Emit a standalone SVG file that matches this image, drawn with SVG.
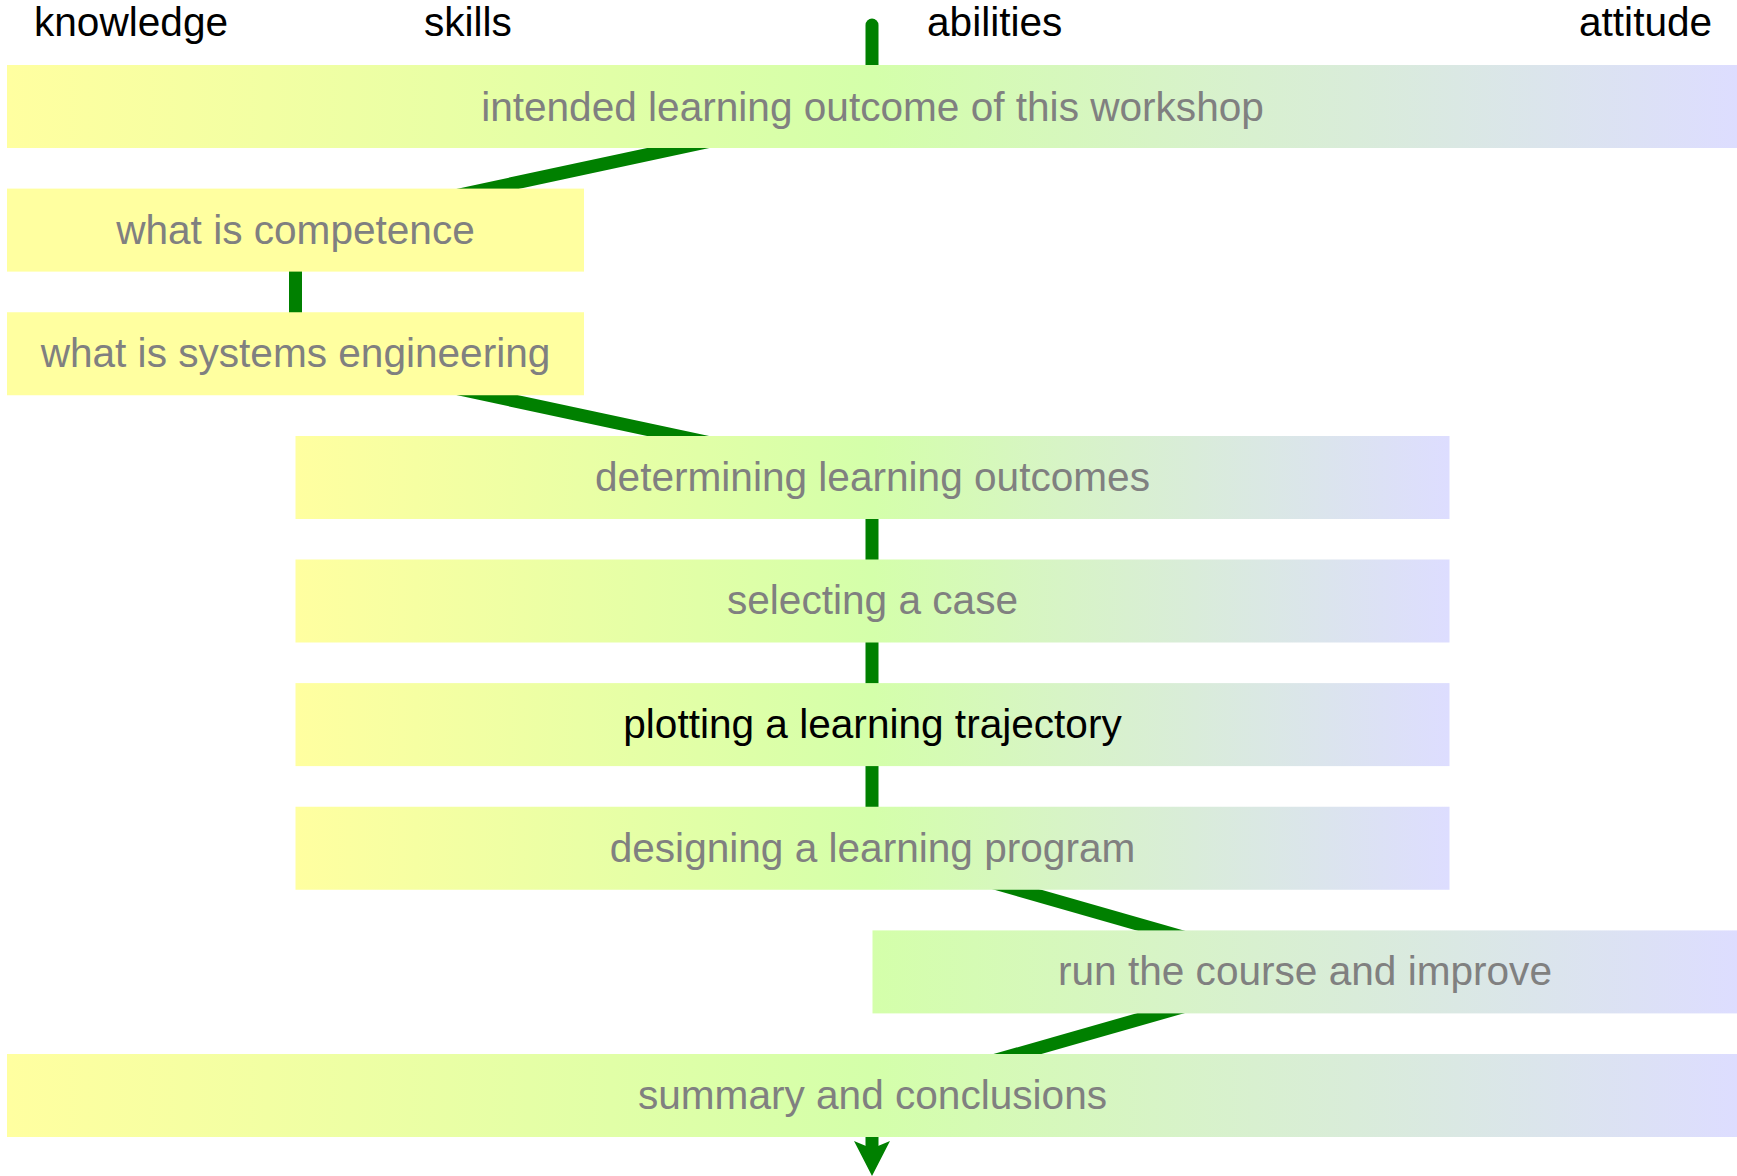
<svg xmlns="http://www.w3.org/2000/svg" width="1737" height="1176" viewBox="0 0 1737 1176">
  <style>
    text { font-family: "Liberation Sans", Arial, sans-serif; font-size: 40.6px; }
    .hdr { fill: #000000; }
    .lbl { fill: #808080; text-anchor: middle; }
    .cur { fill: #000000; text-anchor: middle; }
    .con { stroke: #008000; stroke-width: 13; fill: none; }
  </style>
  <defs>
    <linearGradient id="gFull" x1="0" y1="0" x2="1" y2="0">
      <stop offset="0" stop-color="#FFFFA0"/>
      <stop offset="0.5" stop-color="#D4FFAA"/>
      <stop offset="1" stop-color="#DDDDFF"/>
    </linearGradient>
    <linearGradient id="gRight" x1="0" y1="0" x2="1" y2="0">
      <stop offset="0" stop-color="#D4FFAA"/>
      <stop offset="1" stop-color="#DDDDFF"/>
    </linearGradient>
  </defs>

  <g id="headers">
    <text class="hdr" x="34" y="36">knowledge</text>
    <text class="hdr" x="424" y="36">skills</text>
    <text class="hdr" x="927" y="36">abilities</text>
    <text class="hdr" x="1579" y="36">attitude</text>
  </g>

  <g id="connectors">
    <line class="con" x1="872" y1="25" x2="872" y2="107" stroke-linecap="round"/>
    <line class="con" x1="872.5" y1="106.5" x2="295.5" y2="230"/>
    <line class="con" x1="295.5" y1="230" x2="295.5" y2="354"/>
    <line class="con" x1="295.5" y1="354" x2="872" y2="477.5"/>
    <line class="con" x1="872" y1="477.5" x2="872" y2="848"/>
    <line class="con" x1="872" y1="848" x2="1305" y2="972"/>
    <line class="con" x1="1305" y1="972" x2="872" y2="1095.5"/>
    <line class="con" x1="872" y1="1095.5" x2="872" y2="1146"/>
    <path d="M854,1141 L866,1146 L878,1146 L890,1141 L872,1176 Z" fill="#008000"/>
  </g>

  <g id="n-intended">
    <rect x="7" y="65" width="1731" height="83" fill="url(#gFull)"/>
    <text class="lbl" x="872.5" y="120.5">intended learning outcome of this workshop</text>
  </g>
  <g id="n-competence">
    <rect x="7" y="188.6" width="577" height="83" fill="#FFFFA0"/>
    <text class="lbl" x="295.5" y="243.5">what is competence</text>
  </g>
  <g id="n-systems">
    <rect x="7" y="312.25" width="577" height="83" fill="#FFFFA0"/>
    <text class="lbl" x="295.5" y="367">what is systems engineering</text>
  </g>
  <g id="n-determining">
    <rect x="295.5" y="436" width="1154" height="83" fill="url(#gFull)"/>
    <text class="lbl" x="872.5" y="490.5">determining learning outcomes</text>
  </g>
  <g id="n-selecting">
    <rect x="295.5" y="559.5" width="1154" height="83" fill="url(#gFull)"/>
    <text class="lbl" x="872.5" y="614">selecting a case</text>
  </g>
  <g id="n-plotting">
    <rect x="295.5" y="683.1" width="1154" height="83" fill="url(#gFull)"/>
    <text class="cur" x="872.5" y="737.5">plotting a learning trajectory</text>
  </g>
  <g id="n-designing">
    <rect x="295.5" y="806.75" width="1154" height="83" fill="url(#gFull)"/>
    <text class="lbl" x="872.5" y="861.5">designing a learning program</text>
  </g>
  <g id="n-run">
    <rect x="872.5" y="930.4" width="865.5" height="83" fill="url(#gRight)"/>
    <text class="lbl" x="1305" y="985">run the course and improve</text>
  </g>
  <g id="n-summary">
    <rect x="7" y="1054" width="1731" height="83" fill="url(#gFull)"/>
    <text class="lbl" x="872.5" y="1108.5">summary and conclusions</text>
  </g>
</svg>
